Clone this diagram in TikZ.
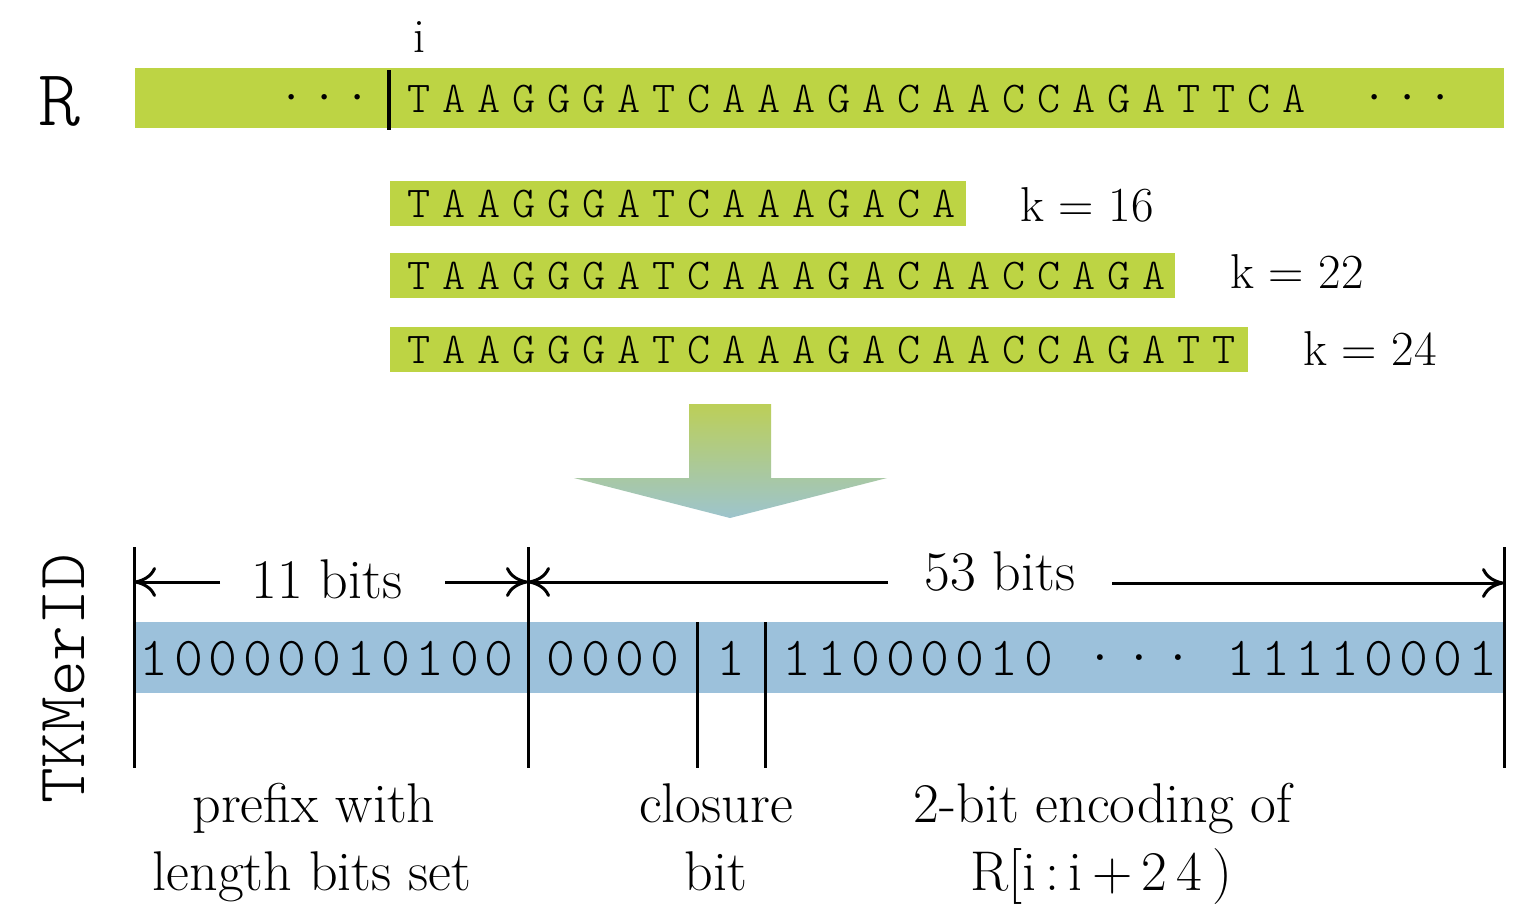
\documentclass[tikz,border=0pt]{standalone}
\usepackage{fontspec}
\newfontfamily\ttlight{Latin Modern Mono Light}
\usetikzlibrary{arrows.meta}
\definecolor{seqgreen}{RGB}{189,212,68}
\definecolor{bitblue}{RGB}{156,193,219}
\definecolor{arrtop}{RGB}{188,207,88}
\definecolor{arrbot}{RGB}{157,196,205}
\newlength\pitchlen
\def\spelt#1{\ifx#1\relax\else\makebox[\pitchlen]{#1}\expandafter\spelt\fi}
\newcommand\spacedtext[2]{\setlength\pitchlen{#1}\spelt#2\relax}
\begin{document}
\begin{tikzpicture}[x=1pt,y=-1pt,
  seq/.style={font=\fontsize{44}{44}\selectfont\ttlight, inner sep=0pt, anchor=base west},
  bits/.style={font=\fontsize{55}{55}\selectfont\ttlight, inner sep=0pt, anchor=base},
  lbl/.style={font=\fontsize{56}{56}\selectfont, inner sep=0pt, anchor=base},
  keq/.style={font=\fontsize{49}{49}\selectfont, inner sep=0pt, anchor=base west},
  vline/.style={line width=3pt},
  dimarrow/.style={line width=3pt, -{Computer Modern Rightarrow[length=22pt,width=30pt]}}
]
\useasboundingbox (0,0) rectangle (1518,906);
\fill[white] (0,0) rectangle (1518,906);

% ---------- R read ----------
\node[font=\fontsize{80}{80}\selectfont\ttlight, inner sep=0pt, anchor=base] (rlab) at (59,125) {R};
\node[font=\fontsize{48}{48}\selectfont, inner sep=0pt, anchor=base] (ilab) at (419,52) {i};
\fill[seqgreen] (135,68) rectangle (1504,128);
\node[seq, anchor=base, font=\fontsize{50}{50}\selectfont\ttlight] (rdotsl) at (325,112) {\spacedtext{33pt}{···}};
\node[seq] (rseq) at (401,112) {\spacedtext{35pt}{TAAGGGATCAAAGACAACCAGATTCA}};
\node[seq, anchor=base, font=\fontsize{50}{50}\selectfont\ttlight] (rdotsr) at (1408,112) {\spacedtext{33pt}{···}};
\coordinate (sepT) at (389,70);
\coordinate (sepB) at (389,130);
\draw[line width=4.5pt] (sepT) -- (sepB);

% ---------- k-mers ----------
\fill[seqgreen] (390,181) rectangle (966,226);
\node[seq] (k16seq) at (401,217) {\spacedtext{35pt}{TAAGGGATCAAAGACA}};
\node[keq] (k16) at (1020,221) {k = 16};

\fill[seqgreen] (390,253) rectangle (1175,298);
\node[seq] (k22seq) at (401,289) {\spacedtext{35pt}{TAAGGGATCAAAGACAACCAGA}};
\node[keq] (k22) at (1230,288) {k = 22};

\fill[seqgreen] (390,327) rectangle (1248,372);
\node[seq] (k24seq) at (401,363) {\spacedtext{35pt}{TAAGGGATCAAAGACAACCAGATT}};
\node[keq] (k24) at (1303,365) {k = 24};

% ---------- big arrow ----------
\shade[top color=arrtop, bottom color=arrbot]
  (689,404) -- (771,404) -- (771,478) -- (887,478) -- (730,518) -- (574,478) -- (689,478) -- cycle;

% ---------- TKMerID ----------
\node[font=\fontsize{68}{68}\selectfont\ttlight, inner sep=0pt, anchor=base, rotate=90] (tkm) at (84,679) {TKMerID};
\fill[bitblue] (135,622) rectangle (1504,693);

\node[bits] (b1) at (326.5,675) {\spacedtext{34.5pt}{10000010100}};
\node[bits] (b2) at (613,675) {\spacedtext{34.5pt}{0000}};
\node[bits] (b3) at (731,675) {1};
\node[bits] (b4) at (918,675) {\spacedtext{34.5pt}{11000010}};
\node[font=\fontsize{26}{26}\selectfont, inner sep=0pt] (bdots) at (1139,660)
  {\makebox[39pt]{\textbullet}\makebox[39pt]{\textbullet}\makebox[39pt]{\textbullet}};
\node[bits] (b5) at (1362,675) {\spacedtext{34.5pt}{11110001}};

\coordinate (v0t) at (134,547);  \coordinate (v0b) at (134,768);
\coordinate (v1t) at (528,547);  \coordinate (v1b) at (528,768);
\coordinate (v2t) at (697,622);  \coordinate (v2b) at (697,768);
\coordinate (v3t) at (765,622);  \coordinate (v3b) at (765,768);
\coordinate (v4t) at (1504,547); \coordinate (v4b) at (1504,768);
\foreach \v in {0,...,4} \draw[vline] (v\v t) -- (v\v b);

% dimension arrows
\node[lbl] (l11) at (327,598) {11 bits};
\coordinate (g11l) at (220,582);
\coordinate (g11r) at (445,582);
\draw[dimarrow] (g11l) -- (v0t |- g11l);
\draw[dimarrow] (g11r) -- (v1t |- g11r);

\node[lbl] (l53) at (1000,590) {53 bits};
\coordinate (g53l) at (888,582);
\coordinate (g53r) at (1112,583);
\draw[dimarrow] (g53l) -- (v1t |- g53l);
\draw[dimarrow] (g53r) -- (v4t |- g53r);

% bottom labels
\node[lbl] (p1) at (314,822) {prefix with};
\node[lbl] (p2) at (312,890) {length bits set};
\node[lbl] (c1) at (716,822) {closure};
\node[lbl] (c2) at (716,890) {bit};
\node[lbl] (e1) at (1103,822) {2-bit encoding of};
\node[lbl] (e2) at (1101,890) {R[i\,:\,i\,+\,2\,4\,)};
\end{tikzpicture}
\end{document}
